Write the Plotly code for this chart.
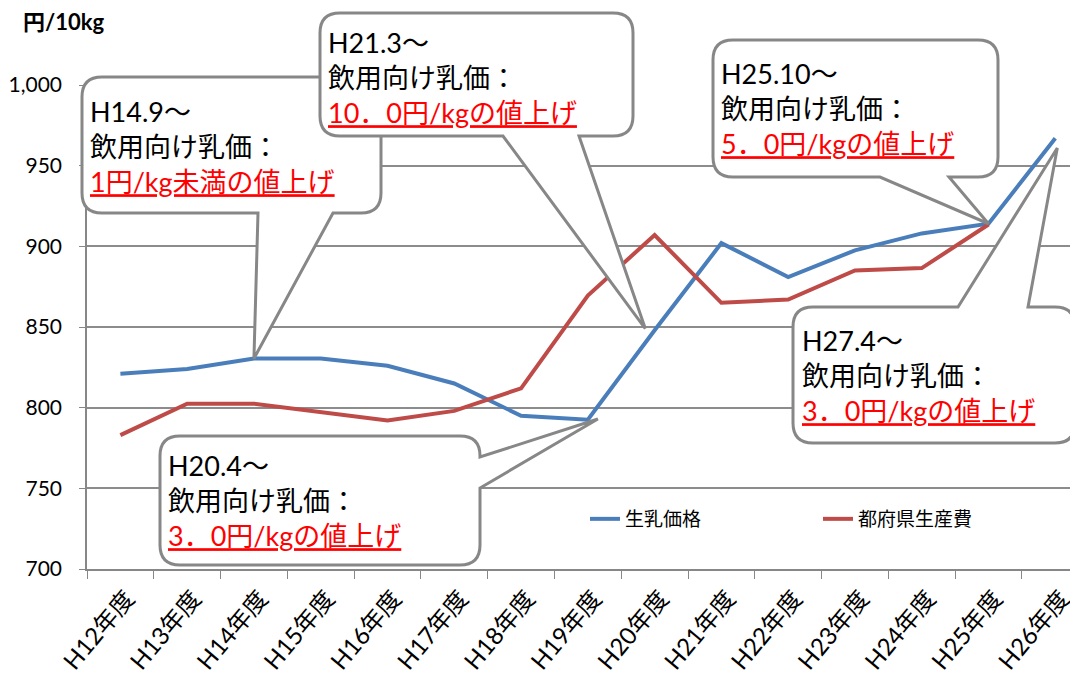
import plotly.graph_objects as go

categories = ["H12年度", "H13年度", "H14年度", "H15年度", "H16年度", "H17年度", "H18年度",
              "H19年度", "H20年度", "H21年度", "H22年度", "H23年度", "H24年度", "H25年度", "H26年度"]
milk_price = [821, 824, 830.5, 830.5, 826, 815, 795, 792.5, 848, 902, 881, 897.5, 908, 914, 967]
prefecture_cost = [783, 802.5, 802.5, 797.5, 792, 798, 812, 869.5, 907, 865, 867, 885, 886.5, 913.5, None]
series_names = ["生乳価格", "都府県生産費"]
y_ticks = [700, 750, 800, 850, 900, 950, 1000]

# page (window) geometry; the html body adds an 8px margin
OFF = 8
PAGE_W, PAGE_H = 1078, 682
W, H = PAGE_W - OFF, PAGE_H - OFF
L, R, T, B = 87, 1078, 85, 569  # plot area in page pixels
XR = [-0.5, 14.34]
YR = [700, 1000]
JP = "'Noto Sans CJK JP', sans-serif"
NUM = "Lato, 'Noto Sans CJK JP', sans-serif"


def dx(i):
    return L + (i - XR[0]) * (R - L) / (XR[1] - XR[0])


def dy(v):
    return B - (v - YR[0]) * (B - T) / (YR[1] - YR[0])


def px(x):
    return (x - L) / (R - L)


def py(y):
    return (B - y) / (B - T)


def bubble(x0, y0, x1, y1, side, a, b, tip, r=20):
    pts = []
    pts.append(("M", (x0 + r, y0)))
    if side == "top":
        pts += [("L", (a, y0)), ("L", tip), ("L", (b, y0))]
    pts.append(("L", (x1 - r, y0)))
    pts.append(("Q", (x1, y0), (x1, y0 + r)))
    if side == "right":
        pts += [("L", (x1, a)), ("L", tip), ("L", (x1, b))]
    pts.append(("L", (x1, y1 - r)))
    pts.append(("Q", (x1, y1), (x1 - r, y1)))
    if side == "bottom":
        pts += [("L", (b, y1)), ("L", tip), ("L", (a, y1))]
    pts.append(("L", (x0 + r, y1)))
    pts.append(("Q", (x0, y1), (x0, y1 - r)))
    pts.append(("L", (x0, y0 + r)))
    pts.append(("Q", (x0, y0), (x0 + r, y0)))
    s = ""
    for p in pts:
        cmd = p[0]
        coords = " ".join(f"{px(c[0]):.5f},{py(c[1]):.5f}" for c in p[1:])
        s += f"{cmd}{coords} "
    return s + "Z"


fig = go.Figure()
fig.add_trace(go.Scatter(x=categories, y=milk_price, name=series_names[0], mode="lines",
                         line=dict(color="#4A7EBB", width=4), legend="legend"))
fig.add_trace(go.Scatter(x=categories, y=prefecture_cost, name=series_names[1], mode="lines",
                         line=dict(color="#BE4B48", width=4), legend="legend2"))

callouts = [
    dict(box=(82, 77, 381, 213), side="bottom", a=258, b=333, tip=(2, milk_price[2]),
         tx=88, ty=146, head="H14.9～", red="1円/kg未満の値上げ"),
    dict(box=(320, 13, 633, 136), side="bottom", a=503, b=579, tip=(7.86, 849),
         tx=326, ty=77, head="H21.3～", red="10．0円/kgの値上げ"),
    dict(box=(713, 40, 998, 177), side="bottom", a=880, b=949, tip=(13, milk_price[13]),
         tx=719, ty=109, head="H25.10～", red="5．0円/kgの値上げ"),
    dict(box=(793, 307, 1075, 443), side="top", a=958, b=1028, tip=(14.03, 961),
         tx=800, ty=375, head="H27.4～", red="3．0円/kgの値上げ"),
    dict(box=(160, 436, 480, 565), side="right", a=457, b=488, tip=(7.15, 793),
         tx=166, ty=500, head="H20.4～", red="3．0円/kgの値上げ"),
]

shapes = []
annotations = []
for c in callouts:
    x0, y0, x1, y1 = c["box"]
    tip = (dx(c["tip"][0]), dy(c["tip"][1]))
    shapes.append(dict(type="path", xref="paper", yref="paper", layer="above",
                       path=bubble(x0, y0, x1, y1, c["side"], c["a"], c["b"], tip),
                       fillcolor="white", line=dict(color="#878787", width=3)))
    annotations.append(dict(
        xref="paper", yref="paper", x=px(c["tx"]), y=py(c["ty"]), xanchor="left", yanchor="middle",
        align="left", showarrow=False,
        text=f"{c['head']}<br>飲用向け乳価：<br><span style='color:#FF0000'><u>{c['red']}</u></span>",
        font=dict(family=NUM, size=27, color="#000000")))

annotations.append(dict(xref="paper", yref="paper", x=px(21), y=py(22), xanchor="left",
                        yanchor="middle", showarrow=False, text="<b>円/10kg</b>",
                        font=dict(family=NUM, size=22, color="#000000")))

legend_common = dict(orientation="h", yanchor="middle", xanchor="left",
                     font=dict(family=JP, size=19, color="#000000"), bgcolor="rgba(0,0,0,0)")

fig.update_layout(
    width=W, height=H,
    margin=dict(l=L - OFF, r=PAGE_W - R, t=T - OFF, b=PAGE_H - B, autoexpand=False),
    paper_bgcolor="white", plot_bgcolor="white",
    font=dict(family=NUM, color="#000000"),
    shapes=shapes, annotations=annotations,
    showlegend=True,
    legend=dict(x=px(585), y=py(519), **legend_common),
    legend2=dict(x=px(818), y=py(519), **legend_common),
    xaxis=dict(type="category", range=XR, tickangle=-50, showgrid=False, automargin=False,
               showline=True, linecolor="#878787", linewidth=1.5,
               ticks="outside", tickson="boundaries", ticklen=8, tickcolor="#878787",
               ticklabelstandoff=4, ticklabelshift=6,
               tickfont=dict(family=NUM, size=24, color="#000000")),
    yaxis=dict(range=YR, tickvals=y_ticks, tickformat=",", showgrid=True, gridcolor="#8C8C8C",
               gridwidth=1.5, showline=True, linecolor="#878787", linewidth=1.5, automargin=False,
               ticks="outside", ticklen=6, tickcolor="#878787", zeroline=False,
               ticklabelstandoff=13,
               tickfont=dict(family=NUM, size=21, color="#000000")),
)

fig.write_html("out.html")
